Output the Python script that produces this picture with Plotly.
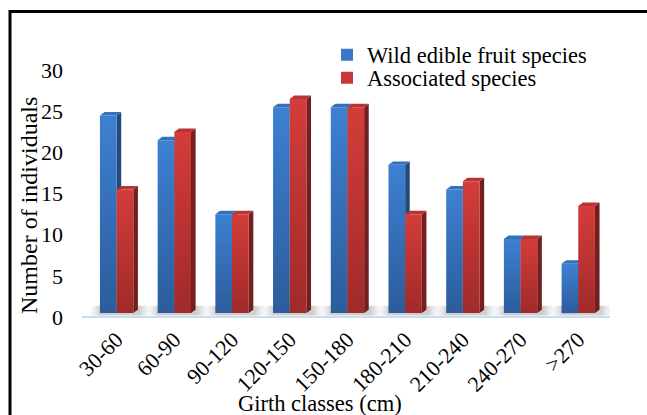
import plotly.graph_objects as go

# Girth-class distribution of individuals
categories = ["30-60", "60-90", "90-120", "120-150", "150-180",
              "180-210", "210-240", "240-270", ">270"]
wild_edible = [24, 21, 12, 25, 25, 18, 15, 9, 6]
associated = [15, 22, 12, 26, 25, 12, 16, 9, 13]

series_names = ["Wild edible fruit species", "Associated species"]

# 3-D column styling (front gradient bottom->top, side, top face)
BLUE = dict(front=["#2c5c9b", "#3d80d2"], side="#244a7d", top="#3470bb", key="#3a78c8")
RED = dict(front=["#a02a2a", "#d33d3a"], side="#741f1f", top="#b83432", key="#c8383a")

BAR_W = 0.289     # front face width (category units)
DEPTH_X = 0.08    # depth offset along x
DEPTH_Y = 0.42    # depth offset along y

FONT = "Liberation Serif, Times New Roman, serif"

fig = go.Figure()


def face(xs, ys, color=None, grad=None):
    fig.add_trace(go.Scatter(
        x=xs, y=ys, mode="lines", fill="toself",
        line=dict(width=0, color="rgba(0,0,0,0)"),
        fillcolor=color, fillgradient=grad,
        hoverinfo="skip", showlegend=False))


def column(x0, x1, v, style):
    # side face
    face([x1, x1 + DEPTH_X, x1 + DEPTH_X, x1, x1],
         [0, DEPTH_Y, v + DEPTH_Y, v, 0], color=style["side"])
    # top face
    face([x0, x1, x1 + DEPTH_X, x0 + DEPTH_X, x0],
         [v, v, v + DEPTH_Y, v + DEPTH_Y, v], color=style["top"])
    # front face with vertical gradient
    face([x0, x1, x1, x0, x0], [0, 0, v, v, 0],
         grad=dict(type="vertical", start=0, stop=v,
                   colorscale=[[0, style["front"][0]], [1, style["front"][1]]]))


# floor shadows under each pair of columns
for i in range(len(categories)):
    left = i - BAR_W
    right = i + BAR_W + DEPTH_X
    face([left - 0.26, right + 0.16, right + 0.3, left - 0.1, left - 0.26],
         [-0.3, -0.3, 0.9, 0.9, -0.3],
         grad=dict(type="horizontal", start=left - 0.26, stop=right + 0.3,
                   colorscale=[[0, "rgba(255,255,255,0)"], [0.22, "#cfcfcf"],
                               [0.78, "#cfcfcf"], [1, "rgba(255,255,255,0)"]]))

for i in range(len(categories)):
    column(i - BAR_W, i, wild_edible[i], BLUE)
    column(i, i + BAR_W, associated[i], RED)

# plot-area geometry (pixels)
L, R, T, B = 82, 37, 66, 99
W, H = 647, 415
PW, PH = W - L - R, H - T - B


def px(xp):
    return (xp - L) / PW


def py(yp):
    return (H - B - yp) / PH


# legend keys, one legend per series
legend_rows = [55, 78]
legend_ids = ["legend", "legend2"]
for name, style, lid in zip(series_names, [BLUE, RED], legend_ids):
    fig.add_trace(go.Scatter(
        x=[None], y=[None], mode="markers", name=name, legend=lid,
        marker=dict(symbol="square", size=12, color=style["key"])))

legend_style = dict(xanchor="left", yanchor="middle", bgcolor="rgba(0,0,0,0)",
                    font=dict(family=FONT, size=22.5), itemwidth=30)

fig.update_layout(
    width=W, height=H,
    margin=dict(l=L, r=R, t=T, b=B, autoexpand=False),
    paper_bgcolor="white", plot_bgcolor="white",
    font=dict(family=FONT, size=22, color="black"),
    showlegend=True,
    legend=dict(x=px(327), y=py(legend_rows[0]), **legend_style),
    legend2=dict(x=px(327), y=py(legend_rows[1]), **legend_style),
    xaxis=dict(range=[-0.6, 8.55], tickmode="array",
               tickvals=list(range(len(categories))), ticktext=categories,
               tickangle=-45, showgrid=False, zeroline=False,
               showline=True, linecolor="#c9dcf2", linewidth=2,
               ticks="", tickfont=dict(family=FONT, size=22),
               automargin=False),
    yaxis=dict(range=[-0.35, 30], tickmode="array", tickvals=[0, 5, 10, 15, 20, 25, 30],
               showgrid=False, zeroline=False, showline=False, ticks="",
               tickfont=dict(family=FONT, size=22), ticklabelstandoff=18,
               ticklabelshift=4, automargin=False),
    annotations=[
        dict(text="Girth classes (cm)", x=px(320), y=py(404),
             xref="paper", yref="paper", showarrow=False,
             xanchor="center", yanchor="middle",
             font=dict(family=FONT, size=22.5)),
        dict(text="Number of individuals", x=px(29), y=py(206),
             xref="paper", yref="paper", showarrow=False, textangle=-90,
             xanchor="center", yanchor="middle",
             font=dict(family=FONT, size=24)),
    ],
    shapes=[dict(type="rect", xref="paper", yref="paper",
                 x0=px(10), x1=px(720), y0=py(11.5), y1=py(480),
                 line=dict(color="black", width=3), fillcolor="rgba(0,0,0,0)",
                 layer="above")],
)

fig.write_html("out.html")
